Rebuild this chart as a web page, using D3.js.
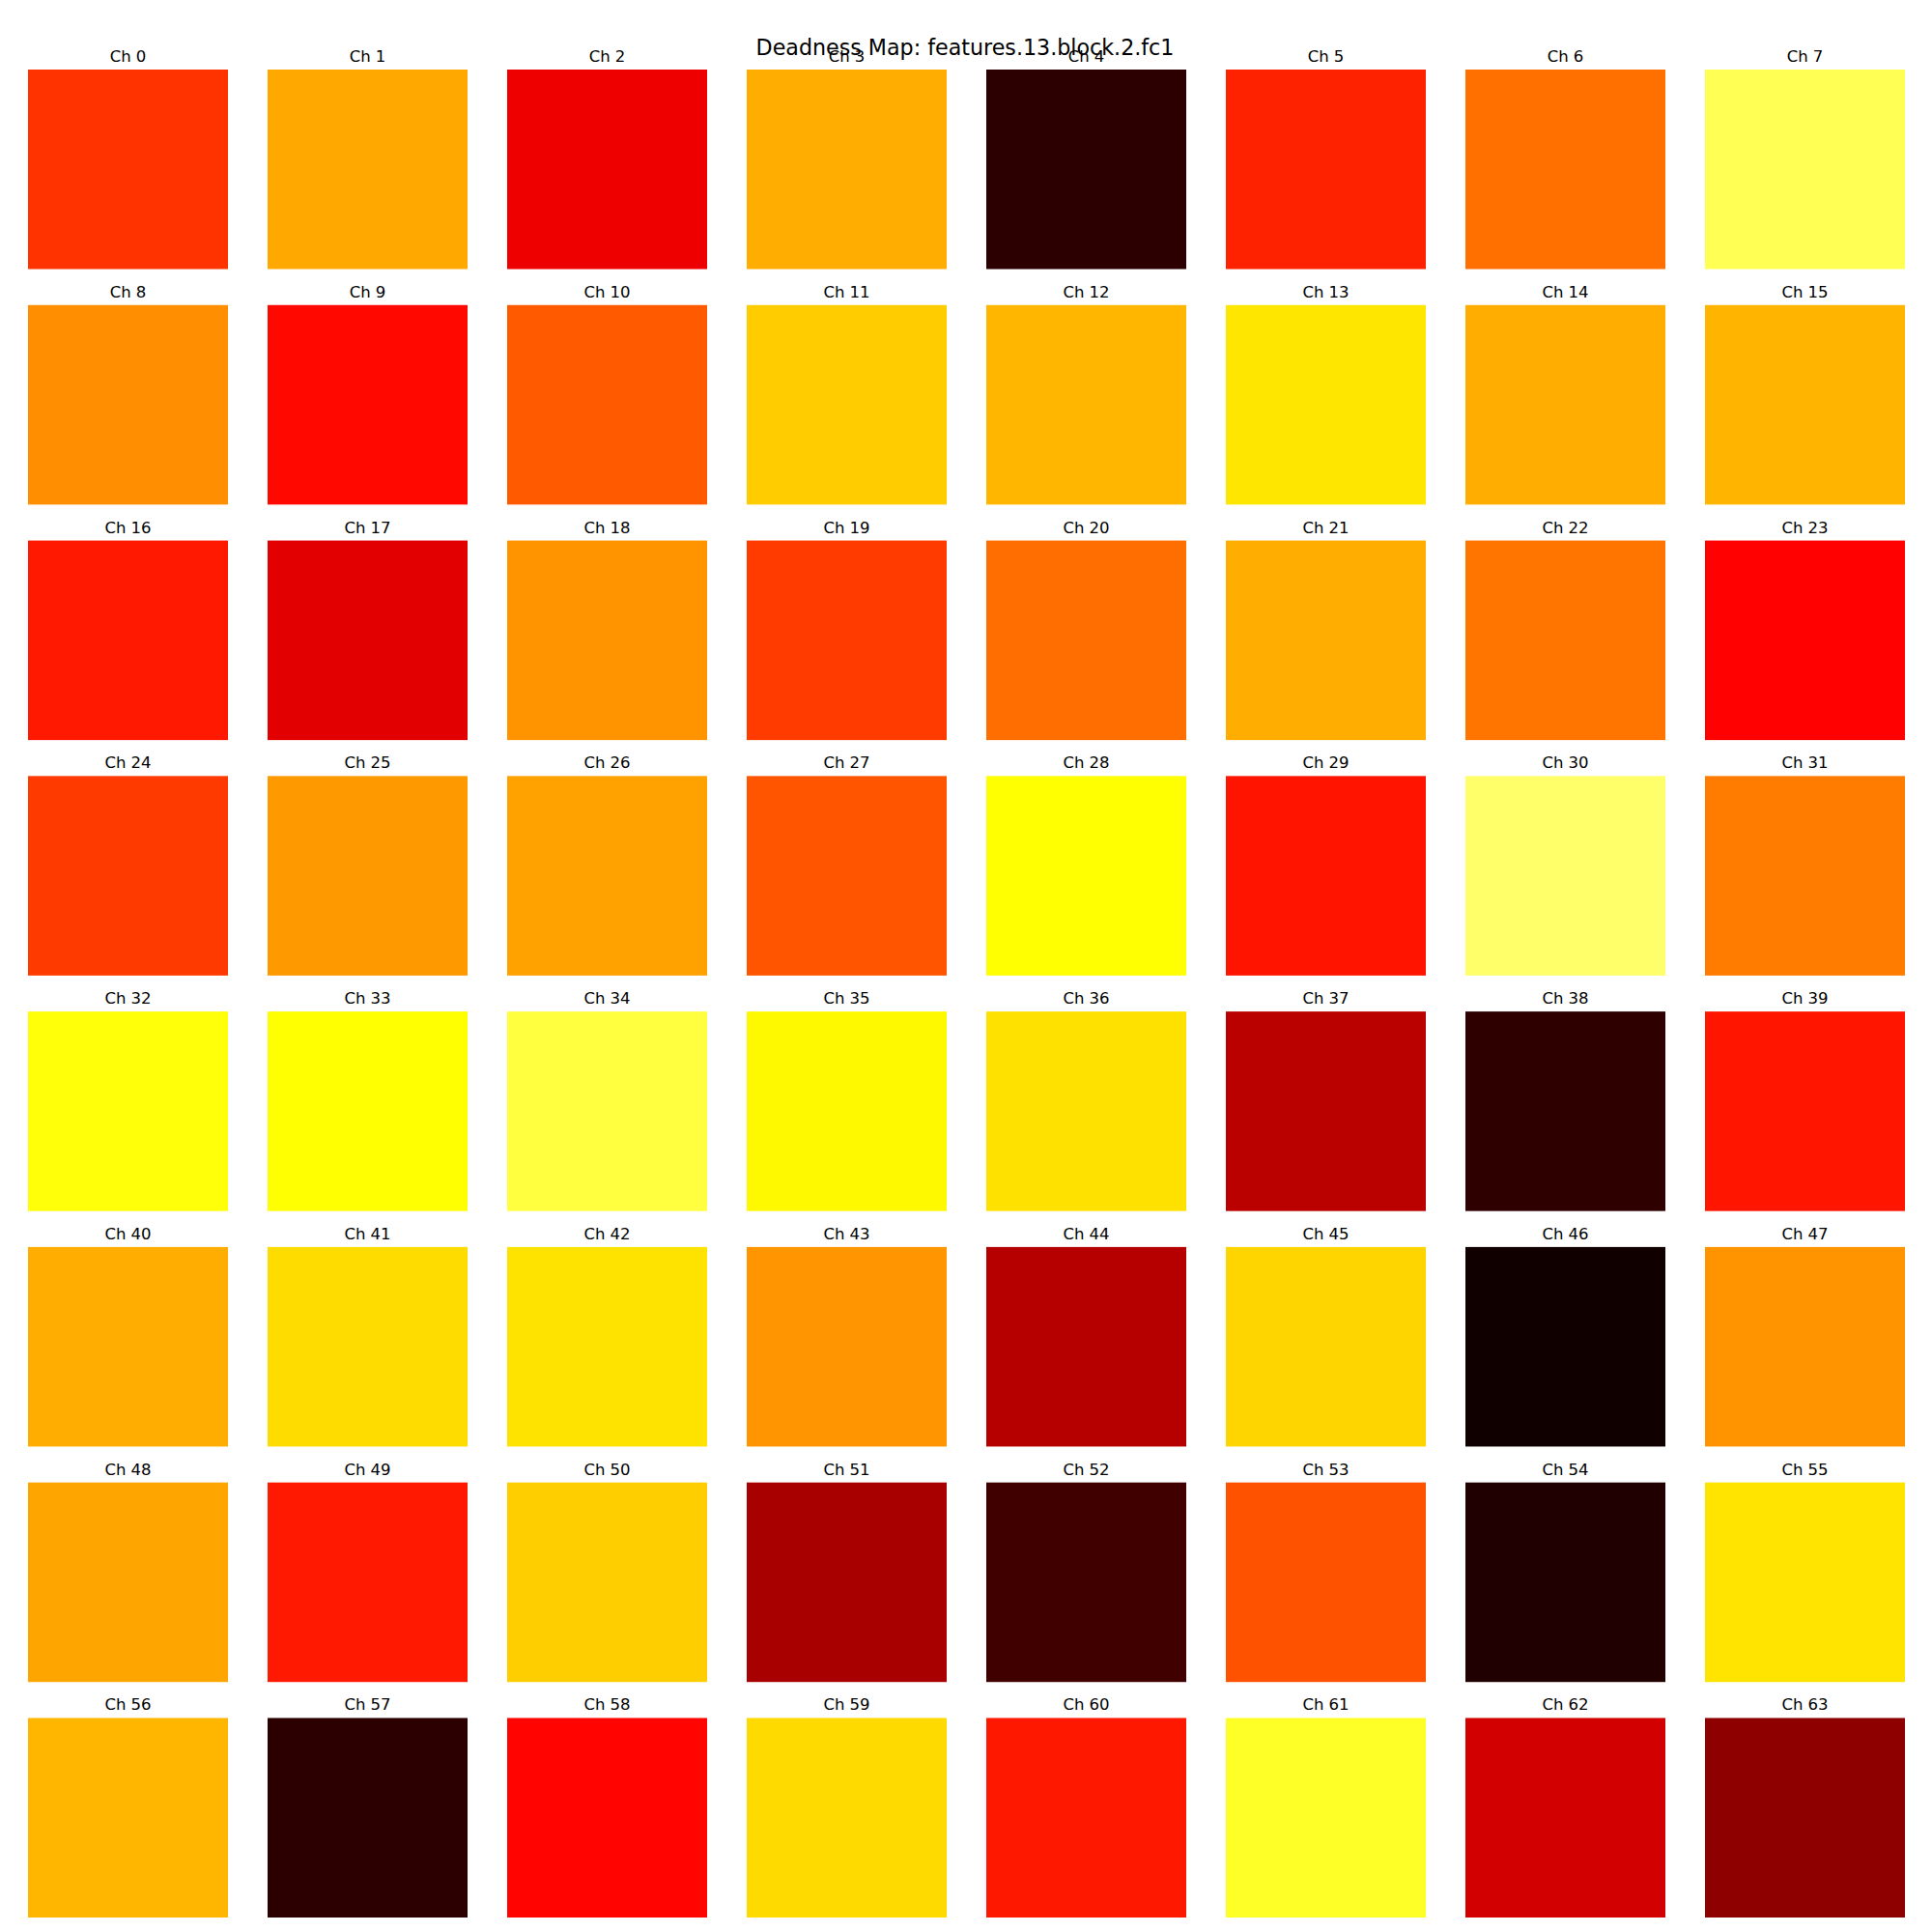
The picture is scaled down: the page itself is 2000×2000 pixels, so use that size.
<!DOCTYPE html>
<html>
<head>
<meta charset="utf-8">
<script src="https://cdn.jsdelivr.net/npm/d3@7"></script>
<style>
  html, body { margin: 0; padding: 0; background: #fff; }
  svg { display: block; }
</style>
</head>
<body>
<script>
const title = "Deadness Map: features.13.block.2.fc1";
const channels = d3.range(64).map(i => "Ch " + i);
// normalized deadness values per channel (0..1 mapped through 'hot' colormap)
const values = [
  0.441, 0.617, 0.339, 0.624, 0.050, 0.416, 0.533, 0.830,
  0.577, 0.377, 0.499, 0.670, 0.637, 0.708, 0.623, 0.634,
  0.403, 0.323, 0.586, 0.453, 0.529, 0.623, 0.540, 0.367,
  0.452, 0.594, 0.607, 0.492, 0.748, 0.395, 0.852, 0.551,
  0.756, 0.748, 0.810, 0.737, 0.701, 0.263, 0.053, 0.396,
  0.624, 0.694, 0.704, 0.588, 0.256, 0.683, 0.008, 0.586,
  0.611, 0.403, 0.673, 0.235, 0.080, 0.487, 0.032, 0.706,
  0.637, 0.050, 0.371, 0.691, 0.401, 0.786, 0.298, 0.196
];
const nCols = 8;

const W = 2000, H = 2000;
const svg = d3.select("body").append("svg").attr("width", W).attr("height", H);

// matplotlib 'hot' colormap
const hotR = d3.scaleLinear().domain([0, 0.365079, 1]).range([0.0416, 1, 1]).clamp(true);
const hotG = d3.scaleLinear().domain([0, 0.365079, 0.746032, 1]).range([0, 0, 1, 1]).clamp(true);
const hotB = d3.scaleLinear().domain([0, 0.746032, 1]).range([0, 0, 1]).clamp(true);
const hot = v => d3.rgb(hotR(v) * 255, hotG(v) * 255, hotB(v) * 255).formatHex();

const x = d3.scaleBand().domain(d3.range(nCols)).range([29, 1972]).paddingInner(0.1653);
const y = d3.scaleBand().domain(d3.range(nCols)).range([72, 1985]).paddingInner(0.1527);

const data = values.map((v, i) => ({ v, label: channels[i], col: i % nCols, row: Math.floor(i / nCols) }));

const g = svg.append("g");
g.selectAll("rect").data(data).join("rect")
  .attr("x", d => x(d.col))
  .attr("y", d => y(d.row))
  .attr("width", x.bandwidth())
  .attr("height", y.bandwidth())
  .attr("fill", d => hot(d.v));

g.selectAll("text.lbl").data(data).join("text")
  .attr("class", "lbl")
  .attr("x", d => x(d.col) + x.bandwidth() / 2)
  .attr("y", d => y(d.row) - 8)
  .attr("text-anchor", "middle")
  .attr("font-family", "DejaVu Sans")
  .attr("font-size", 16.5)
  .attr("fill", "#000")
  .text(d => d.label);

svg.append("text")
  .attr("x", 999)
  .attr("y", 56.7)
  .attr("text-anchor", "middle")
  .attr("font-family", "DejaVu Sans")
  .attr("font-size", 22.2)
  .attr("fill", "#000")
  .text(title);
</script>
</body>
</html>
